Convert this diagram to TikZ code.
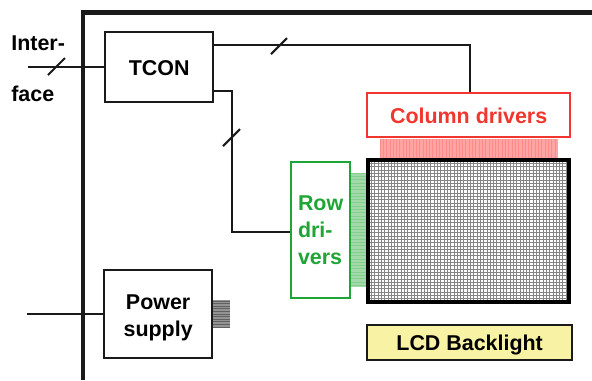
\documentclass[tikz,border=0pt]{standalone}
\usepackage{fontspec}
\setmainfont{Liberation Sans}
\definecolor{cred}{HTML}{F0362E}
\definecolor{cgreen}{HTML}{1FA535}
\definecolor{cyel}{HTML}{F8F2A4}
\definecolor{cline}{HTML}{1A1A1A}
\tikzset{
  px/.style={x=0.02cm,y=-0.02cm},
  lab/.style={font=\fontsize{12.2pt}{15.4pt}\selectfont\bfseries,align=center,inner sep=0pt},
  blk/.style={draw=cline,line width=1.3pt,lab,anchor=north west,inner sep=0pt},
  wire/.style={draw=cline,line width=1.3pt},
  tick/.style={draw=cline,line width=1.2pt},
}
\begin{document}
\begin{tikzpicture}[px]
\useasboundingbox (0,0) rectangle (592,380);
% outer frame
\draw[cline,line width=2.4pt] (83,380) -- (83,12.5) -- (592,12.5);
% column stripes
\fill[red!36!white] (380,139) rectangle (558,158);
\foreach \x in {380,383.3,...,557} \draw[red!46!white,line width=0.35pt] (\x,139) -- (\x,158);
% row stripes
\fill[cgreen!42!white] (351,173) rectangle (366,287);
\foreach \y in {173,176.3,...,287} \draw[cgreen!55!white,line width=0.35pt] (351,\y) -- (366,\y);
% power stripes
\fill[black!42] (212,300) rectangle (230,328);
\foreach \y in {301,303.6,...,328} \draw[black!62,line width=0.4pt] (212,\y) -- (230,\y);
% LCD grid
\foreach \x in {368,371.3,...,570} \draw[black!48,line width=0.33pt] (\x,158) -- (\x,304);
\foreach \y in {160,163.3,...,303} \draw[black!48,line width=0.33pt] (366,\y) -- (571,\y);
\node[draw=black,line width=2.4pt,minimum width=0.02*201cm,minimum height=0.02*142cm,anchor=north west,inner sep=0pt] (lcd) at (366,158) {};
% blocks
\node[blk,minimum width=0.02*108cm,minimum height=0.02*70cm] (tcon) at (104,31) {\rule{0pt}{10pt}TCON};
\node[blk,draw=cred,text=cred,minimum width=0.02*203cm,minimum height=0.02*44cm] (col) at (366,92) {\rule{0pt}{10pt}Column drivers};
\node[blk,draw=cgreen,text=cgreen,align=left,minimum width=0.02*59cm,minimum height=0.02*136cm] (row) at (290,161) {Row\\dri-\\vers};
\node[blk,minimum width=0.02*108cm,minimum height=0.02*88cm] (psu) at (103,269) {\rule{0pt}{12.5pt}Power\\supply};
\node[blk,fill=cyel,minimum width=0.02*205cm,minimum height=0.02*35cm] (bl) at (366,324) {\rule{0pt}{11pt}LCD Backlight};
% labels
\node[lab,anchor=west] (inter) at (11,43) {Inter-};
\node[lab,anchor=west] (face) at (11,94) {face};
% connector ends
\coordinate (ifin) at (28,67);
\coordinate (pin) at (27,314);
\coordinate (tconA) at (tcon.north east |- 0,45);
\coordinate (tconB) at (tcon.north east |- 0,91);
\coordinate (colin) at (470,92);
\coordinate (rowin) at (row.north west |- 0,232);
% connectors
\draw[wire] (ifin) -- (tcon.west |- ifin);
\draw[wire] (tconA) -- (colin |- tconA) -- (colin);
\draw[wire] (tconB) -- (232,91) -- (232,232) -- (rowin);
\draw[wire] (pin) -- (psu.west |- pin);
% ticks
\draw[tick] (48,75) -- (65,58);
\draw[tick] (271,54) -- (287,38);
\draw[tick] (223,146) -- (240,129);
\end{tikzpicture}
\end{document}
